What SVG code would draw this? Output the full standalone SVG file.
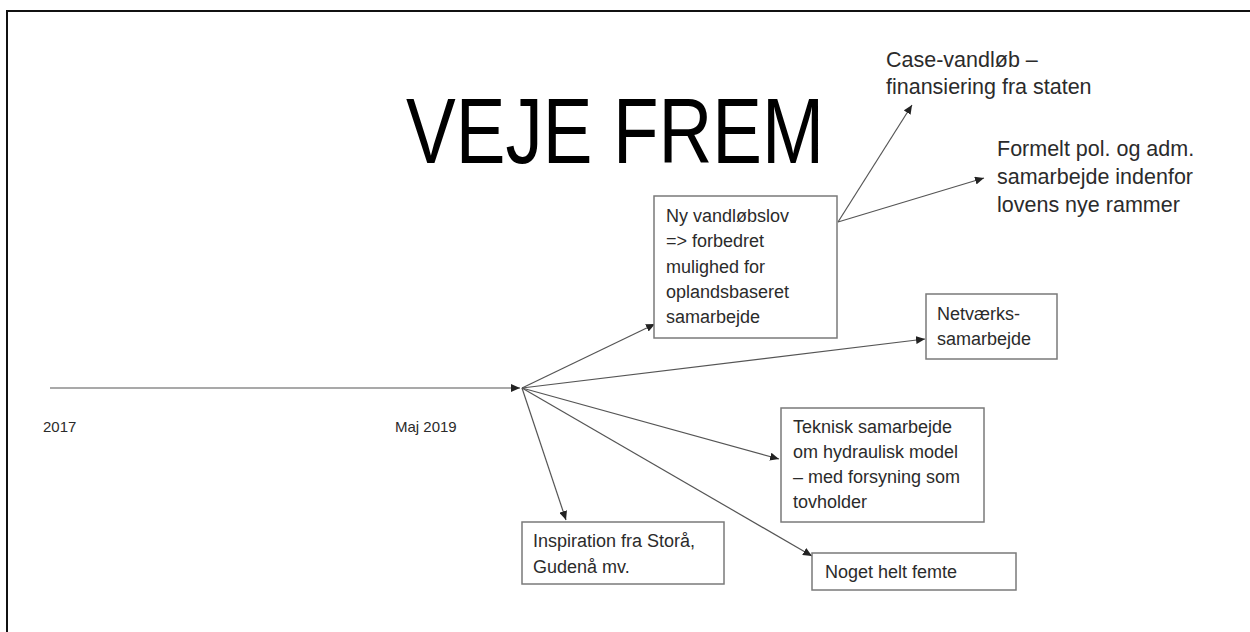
<svg xmlns="http://www.w3.org/2000/svg" width="1250" height="632" viewBox="0 0 1250 632">
<defs>
<marker id="ah" markerUnits="userSpaceOnUse" markerWidth="10" markerHeight="8" refX="9" refY="4" orient="auto">
<path d="M0,0 L9,4 L0,8 Z" fill="#222"/>
</marker>
<style>
.t{font-family:"Liberation Sans",Arial,sans-serif;fill:#2b2b2b}
.b{font-size:18px}
.l{font-size:21.5px}
.s{font-size:15px}
.box{fill:#fff;stroke:#7a7a7a;stroke-width:1.5}
.c{stroke:#555;stroke-width:1.2;fill:none;marker-end:url(#ah)}
</style>
</defs>
<rect width="1250" height="632" fill="#fff"/>
<path d="M7,632 V11 H1250" fill="none" stroke="#111" stroke-width="2"/>
<g id="title">
<text transform="translate(406,163) scale(0.81,1)" x="0" y="0" font-family="'Liberation Sans',Arial,sans-serif" font-size="92" fill="#000">VEJE FREM</text>
</g>
<g id="connectors">
<line class="c" x1="50" y1="388" x2="520" y2="388"/>
<line class="c" x1="522" y1="388" x2="655" y2="324"/>
<line class="c" x1="522" y1="388" x2="925" y2="339"/>
<line class="c" x1="522" y1="388" x2="779" y2="459"/>
<line class="c" x1="522" y1="388" x2="566" y2="520"/>
<line class="c" x1="522" y1="388" x2="812" y2="556"/>
<line class="c" x1="838" y1="222" x2="912" y2="105"/>
<line class="c" x1="838" y1="222" x2="984" y2="178"/>
</g>
<g id="label-2017"><text class="t s" x="43" y="432">2017</text></g>
<g id="label-maj2019"><text class="t s" x="395" y="432">Maj 2019</text></g>
<g id="node-vandloebslov">
<rect class="box" x="654" y="196" width="183" height="142"/>
<text class="t b"><tspan x="666" y="222">Ny vandløbslov</tspan><tspan x="666" y="247">=&gt; forbedret</tspan><tspan x="666" y="273">mulighed for</tspan><tspan x="666" y="298">oplandsbaseret</tspan><tspan x="666" y="323">samarbejde</tspan></text>
</g>
<g id="node-netvaerk">
<rect class="box" x="926" y="294" width="131" height="65"/>
<text class="t b"><tspan x="937" y="320">Netværks-</tspan><tspan x="937" y="345">samarbejde</tspan></text>
</g>
<g id="node-teknisk">
<rect class="box" x="781" y="408" width="203" height="114"/>
<text class="t b"><tspan x="793" y="433">Teknisk samarbejde</tspan><tspan x="793" y="458">om hydraulisk model</tspan><tspan x="793" y="483">– med forsyning som</tspan><tspan x="793" y="508">tovholder</tspan></text>
</g>
<g id="node-inspiration">
<rect class="box" x="522" y="522" width="202" height="62"/>
<text class="t b"><tspan x="533" y="547">Inspiration fra Storå,</tspan><tspan x="533" y="573">Gudenå mv.</tspan></text>
</g>
<g id="node-femte">
<rect class="box" x="812" y="553" width="204" height="37"/>
<text class="t b" x="825" y="578">Noget helt femte</text>
</g>
<g id="node-case">
<text class="t l"><tspan x="886" y="67">Case-vandløb –</tspan><tspan x="886" y="94">finansiering fra staten</tspan></text>
</g>
<g id="node-formelt">
<text class="t l"><tspan x="997" y="156">Formelt pol. og adm.</tspan><tspan x="997" y="184">samarbejde indenfor</tspan><tspan x="997" y="212">lovens nye rammer</tspan></text>
</g>
</svg>
